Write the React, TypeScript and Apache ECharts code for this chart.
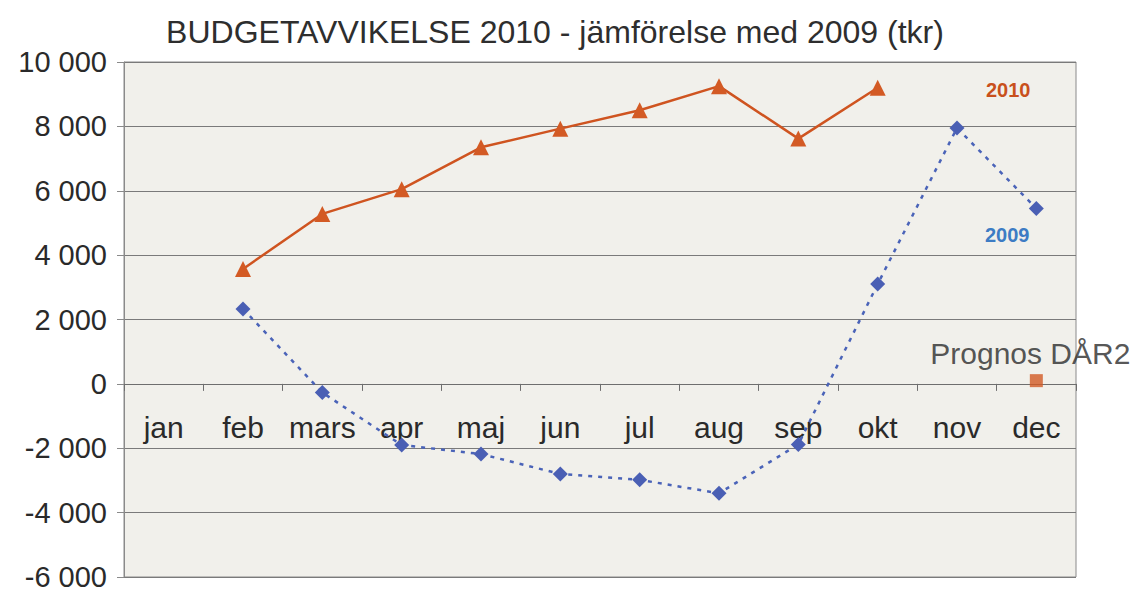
import React, { useEffect, useRef } from "react";
import * as echarts from "echarts";

const months = ["jan", "feb", "mars", "apr", "maj", "jun", "jul", "aug", "sep", "okt", "nov", "dec"];
const values2010 = [null, 3570, 5280, 6050, 7350, 7930, 8500, 9250, 7620, 9200, null, null];
const values2009 = [null, 2330, -270, -1900, -2180, -2800, -2980, -3400, -1880, 3100, 7950, 5450];
const prognos = [null, null, null, null, null, null, null, null, null, null, null, 100];
const yMin = -6000;
const yMax = 10000;
const yInterval = 2000;

const FONT = "'Liberation Sans', Arial, Helvetica, sans-serif";

const GRID_TOP = 62;
const GRID_BOTTOM_PX = 577;
const CHART_H = 592;

function fmt(v: number) {
  const s = Math.abs(v).toString();
  const withSpace = s.length > 3 ? s.slice(0, s.length - 3) + " " + s.slice(s.length - 3) : s;
  return (v < 0 ? "-" : "") + withSpace;
}

export default function App() {
  const ref = useRef<HTMLDivElement>(null);
  useEffect(() => {
    if (!ref.current) return;
    const chart = echarts.init(ref.current, undefined, { renderer: "svg" });
    const gridH = GRID_BOTTOM_PX - GRID_TOP;
    const zeroY = GRID_TOP + (gridH * (yMax - 0)) / (yMax - yMin);
    chart.setOption({
      animation: false,
      backgroundColor: "#ffffff",
      title: {
        text: "BUDGETAVVIKELSE 2010 - jämförelse med 2009 (tkr)",
        left: 550,
        textAlign: "center",
        top: 11,
        textStyle: { fontFamily: FONT, fontSize: 32, fontWeight: "normal", color: "#2e2e2e" },
      },
      grid: {
        left: 124,
        right: 60,
        top: GRID_TOP,
        bottom: CHART_H - GRID_BOTTOM_PX,
        outerBoundsMode: "none",
        containLabel: false,
        show: true,
        backgroundColor: "#f1f0eb",
        borderColor: "#8a8a8a",
        borderWidth: 1,
      },
      xAxis: {
        type: "category",
        data: months,
        boundaryGap: true,
        position: "bottom",
        offset: -(GRID_BOTTOM_PX - zeroY),
        axisLine: { onZero: false, lineStyle: { color: "#6e6e6e", width: 1 } },
        axisTick: { show: true, alignWithLabel: false, length: 7, lineStyle: { color: "#6e6e6e" } },
        axisLabel: { fontFamily: FONT, fontSize: 30, color: "#2a2a2a", margin: 29, interval: 0 },
        splitLine: { show: false },
      },
      yAxis: {
        type: "value",
        min: yMin,
        max: yMax,
        interval: yInterval,
        axisLine: { show: true, lineStyle: { color: "#8a8a8a" } },
        axisTick: { show: true, length: 7, lineStyle: { color: "#8a8a8a" } },
        axisLabel: {
          fontFamily: FONT,
          fontSize: 29,
          lineHeight: 20,
          color: "#2a2a2a",
          margin: 17,
          formatter: (v: number) => fmt(v),
        },
        splitLine: { show: true, lineStyle: { color: "#7a7a7a", width: 1 } },
      },
      series: [
        {
          name: "2010",
          type: "line",
          data: values2010,
          symbol: "triangle",
          symbolSize: 16,
          lineStyle: { color: "#cf5420", width: 2.5 },
          itemStyle: { color: "#d35a24" },
          connectNulls: false,
          z: 3,
        },
        {
          name: "2009",
          type: "line",
          data: values2009,
          symbol: "diamond",
          symbolSize: 15,
          lineStyle: { color: "#4a63b8", width: 2.5, type: [4, 6] },
          itemStyle: { color: "#4a5fb4" },
          z: 2,
        },
        {
          name: "Prognos DÅR2",
          type: "scatter",
          data: prognos,
          symbol: "rect",
          symbolSize: 13,
          itemStyle: { color: "#d25a24" },
          label: {
            show: true,
            position: "top",
            distance: 6,
            offset: [-6, 0],
            formatter: "Prognos DÅR2",
            fontFamily: FONT,
            fontSize: 30,
            color: "#2a2a2a",
          },
        },
      ],
      graphic: [
        {
          type: "text",
          left: 986,
          top: 80,
          style: { text: "2010", fontFamily: FONT, fontSize: 20, fontWeight: "bold", fill: "#c9501c" },
        },
        {
          type: "text",
          left: 985,
          top: 225,
          style: { text: "2009", fontFamily: FONT, fontSize: 20, fontWeight: "bold", fill: "#3d7cc4" },
        },
      ],
    });
    return () => chart.dispose();
  }, []);
  return <div ref={ref} style={{ width: 1136, height: 592, position: "absolute", left: 0, top: 0 }} />;
}
